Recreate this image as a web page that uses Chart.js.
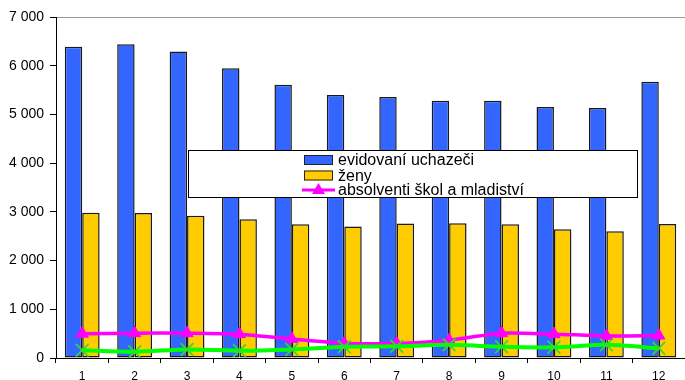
<!DOCTYPE html>
<html>
<head>
<meta charset="utf-8">
<script src="https://cdn.jsdelivr.net/npm/chart.js@4/dist/chart.umd.min.js"></script>
<style>
  html, body { margin: 0; padding: 0; background: #fff; }
  #wrap { width: 685px; height: 380px; }
</style>
</head>
<body>
<div id="wrap"><canvas id="chart" width="685" height="380"></canvas></div>
<script>
// ----- DATA -----
var months = ['1', '2', '3', '4', '5', '6', '7', '8', '9', '10', '11', '12'];
var evidovani = [6390, 6440, 6290, 5950, 5610, 5400, 5360, 5280, 5280, 5150, 5130, 5670];
var zeny = [2980, 2975, 2920, 2850, 2745, 2700, 2760, 2765, 2745, 2645, 2600, 2750];
var absolventi = [500, 510, 510, 490, 390, 300, 300, 365, 510, 490, 455, 460];
var volnaMista = [160, 130, 175, 150, 175, 230, 240, 270, 230, 220, 270, 200];

var yMax = 7000;
var yStep = 1000;

var fontFamily = "'Liberation Sans', Arial, sans-serif";

// thousands with a space: 7000 -> "7 000"
function fmt(v) {
  return String(v).replace(/\B(?=(\d{3})+(?!\d))/g, ' ');
}

// legend drawn in a box over the chart area (like the original)
var boxLegend = {
  id: 'boxLegend',
  afterDatasetsDraw: function(chart, args, opts) {
    var ctx = chart.ctx;
    ctx.save();
    ctx.fillStyle = '#fff';
    ctx.fillRect(opts.x, opts.y, opts.w, opts.h);
    ctx.strokeStyle = '#000';
    ctx.lineWidth = 1;
    ctx.strokeRect(opts.x + 0.5, opts.y + 0.5, opts.w, opts.h);

    ctx.font = '16px ' + fontFamily;
    ctx.textBaseline = 'middle';
    ctx.textAlign = 'left';
    opts.items.forEach(function(idx, i) {
      var ds = chart.data.datasets[idx];
      var cy = opts.rowY[i];
      var sx = opts.swatchX;
      if (ds.type === 'line') {
        ctx.strokeStyle = ds.borderColor;
        ctx.lineWidth = 3;
        ctx.beginPath();
        ctx.moveTo(sx - 2, cy);
        ctx.lineTo(sx + 31, cy);
        ctx.stroke();
        ctx.fillStyle = ds.pointBackgroundColor;
        ctx.beginPath();
        ctx.moveTo(sx + 14.5, cy - 7);
        ctx.lineTo(sx + 21, cy + 4);
        ctx.lineTo(sx + 8, cy + 4);
        ctx.closePath();
        ctx.fill();
      } else {
        ctx.fillStyle = ds.backgroundColor;
        ctx.fillRect(sx, cy - 5, 29, 10);
        ctx.strokeStyle = '#222';
        ctx.lineWidth = 1;
        ctx.strokeRect(sx + 0.5, cy - 4.5, 28, 9);
      }
      ctx.fillStyle = '#000';
      ctx.fillText(ds.label, opts.textX, cy + 1);
    });
    ctx.restore();
  }
};

var ctx = document.getElementById('chart').getContext('2d');

var chart = new Chart(ctx, {
  type: 'bar',
  data: {
    labels: months,
    datasets: [
      {
        label: 'evidovaní uchazeči',
        data: evidovani,
        backgroundColor: '#3366ff',
        borderColor: '#1a1a1a',
        borderWidth: 1.5,
        borderSkipped: false,
        categoryPercentage: 0.665,
        barPercentage: 1.0,
        order: 2
      },
      {
        label: 'ženy',
        data: zeny,
        backgroundColor: '#ffcc00',
        borderColor: '#1a1a1a',
        borderWidth: 1.5,
        borderSkipped: false,
        categoryPercentage: 0.665,
        barPercentage: 1.0,
        order: 2
      },
      {
        type: 'line',
        label: 'absolventi škol a mladiství',
        data: absolventi,
        borderColor: '#ff00ff',
        borderWidth: 3.5,
        tension: 0.25,
        pointStyle: 'triangle',
        pointRadius: 7,
        pointBackgroundColor: '#ff00ff',
        pointBorderColor: '#ff00ff',
        pointBorderWidth: 1,
        order: 1
      },
      {
        type: 'line',
        label: 'volná pracovní místa',
        data: volnaMista,
        borderColor: '#00ff00',
        borderWidth: 4,
        tension: 0.25,
        pointStyle: 'crossRot',
        pointRadius: 9,
        pointBorderColor: '#2edc2e',
        pointBackgroundColor: '#2edc2e',
        pointBorderWidth: 1.7,
        order: 0
      }
    ]
  },
  options: {
    responsive: false,
    animation: false,
    layout: { autoPadding: false, padding: { top: 17, left: 0, right: 0, bottom: 0 } },
    plugins: {
      legend: { display: false },
      tooltip: { enabled: false },
      boxLegend: {
        x: 188, y: 150, w: 449, h: 47,
        items: [0, 1, 2],
        rowY: [160, 175.5, 190],
        swatchX: 304,
        textX: 338
      }
    },
    scales: {
      x: {
        offset: true,
        grid: {
          offset: true,
          drawOnChartArea: false,
          tickLength: 5,
          tickColor: '#000'
        },
        border: { color: '#000', width: 1 },
        ticks: {
          color: '#000',
          font: { family: fontFamily, size: 12 },
          padding: 6,
          maxRotation: 0
        },
        afterFit: function(scale) {
          scale.height = 22;
          scale.paddingLeft = 0;
          scale.paddingRight = 0;
        }
      },
      y: {
        min: 0,
        max: yMax,
        grid: {
          color: function(c) { return c.tick && c.tick.value === yMax ? '#999' : 'rgba(0,0,0,0)'; },
          tickColor: '#000',
          tickLength: 6
        },
        border: { color: '#000', width: 1 },
        ticks: {
          stepSize: yStep,
          color: '#000',
          font: { family: fontFamily, size: 14 },
          padding: 6,
          callback: function(v) { return fmt(v); }
        },
        afterFit: function(scale) { scale.width = 56; }
      }
    }
  },
  plugins: [boxLegend]
});
</script>
</body>
</html>
